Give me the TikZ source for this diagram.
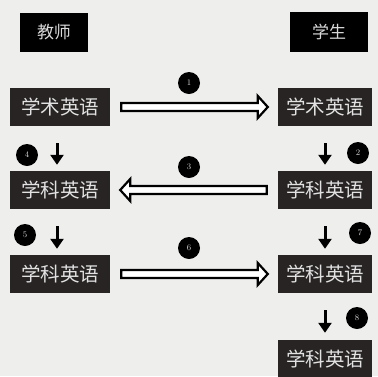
\documentclass[tikz,border=0pt]{standalone}
\usepackage{fontspec}
\newfontfamily\cjk{Noto Sans CJK SC}
\usetikzlibrary{arrows.meta,calc}
\definecolor{bg}{RGB}{238,238,236}
\definecolor{boxc}{RGB}{40,36,36}
\definecolor{txtc}{RGB}{226,226,226}
\newcommand{\hollowarr}[2]{%
  \draw[line width=2.2pt,fill=white,line join=miter]
    (#1) ++(0,-4) -- ($(#2)+(-10,-4)$) -- ($(#2)+(-10,-11)$) -- (#2)
    -- ($(#2)+(-10,11)$) -- ($(#2)+(-10,4)$) -- ($(#1)+(0,4)$) -- cycle;}
\newcommand{\hollowarrl}[2]{%
  \draw[line width=2.2pt,fill=white,line join=miter]
    (#1) ++(0,-4) -- ($(#2)+(10,-4)$) -- ($(#2)+(10,-11)$) -- (#2)
    -- ($(#2)+(10,11)$) -- ($(#2)+(10,4)$) -- ($(#1)+(0,4)$) -- cycle;}
\begin{document}
\begin{tikzpicture}[x=1pt,y=-1pt,
  head/.style={fill=black,text=white!85!black,inner sep=0pt,font=\cjk\fontsize{17}{17}\selectfont},
  term/.style={fill=boxc,text=txtc,inner sep=0pt,minimum height=38pt,font=\cjk\fontsize{19.5}{19.5}\selectfont},
  lterm/.style={term,minimum width=100pt},
  rterm/.style={term,minimum width=94pt},
  num/.style={circle,fill=black,text=white!85!black,inner sep=0pt,minimum size=22pt,font=\fontsize{8.5}{8.5}\selectfont},
  down/.style={line width=3pt,-{Triangle[length=10pt,width=13pt]}}]
\fill[bg] (0,0) rectangle (378,376);
\useasboundingbox (0,0) rectangle (378,376);
\node[head,minimum width=68pt,minimum height=39pt] (T) at (54,32.5) {教师};
\node[head,minimum width=78pt,minimum height=40pt] (S) at (329,32) {学生};
\node[lterm] (L1) at (60,107) {学术英语};
\node[rterm] (R1) at (325,107) {学术英语};
\node[lterm] (L2) at (60,190) {学科英语};
\node[rterm] (R2) at (325,190) {学科英语};
\node[lterm] (L3) at (60,274) {学科英语};
\node[rterm] (R3) at (325,274) {学科英语};
\node[rterm] (R4) at (325,359) {学科英语};
\node[num] (n1) at (189,83) {1};
\node[num] (n3) at (189,167) {3};
\node[num] (n6) at (189,248) {6};
\node[num] (n4) at (27,155) {4};
\node[num] (n2) at (358,153) {2};
\node[num] (n5) at (25,235) {5};
\node[num] (n7) at (360,233) {7};
\node[num] (n8) at (357,318) {8};
\coordinate (a1s) at ([xshift=11pt]L1.east);
\coordinate (a1t) at ([xshift=-10pt]R1.west);
\coordinate (a3s) at ([xshift=-11pt]R2.west);
\coordinate (a3t) at ([xshift=10pt]L2.east);
\coordinate (a6s) at ([xshift=11pt]L3.east);
\coordinate (a6t) at ([xshift=-10pt]R3.west);
\hollowarr{a1s}{a1t}
\hollowarrl{a3s}{a3t}
\hollowarr{a6s}{a6t}
\draw[down,shorten <=17pt,shorten >=6pt] ([xshift=-3pt]L1.south) -- ([xshift=-3pt]L2.north);
\draw[down,shorten <=17pt,shorten >=6pt] ([xshift=-3pt]L2.south) -- ([xshift=-3pt]L3.north);
\draw[down,shorten <=17pt,shorten >=6pt] (R1.south) -- (R2.north);
\draw[down,shorten <=17pt,shorten >=6pt] (R2.south) -- (R3.north);
\draw[down,shorten <=17pt,shorten >=7pt] (R3.south) -- (R4.north);
\end{tikzpicture}
\end{document}
